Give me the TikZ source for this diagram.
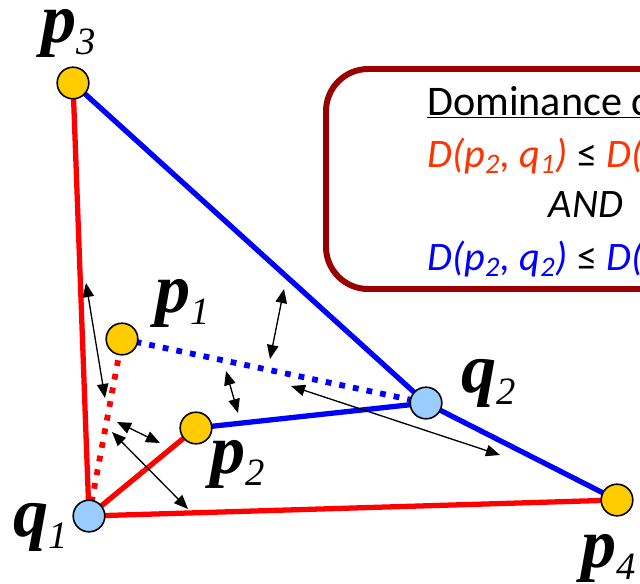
\documentclass[tikz,border=0pt]{standalone}
\usepackage{fontspec}
\setmainfont{Carlito}
\newfontfamily\lblfont{Liberation Serif}[BoldItalicFont={Liberation Serif Bold Italic}, ItalicFont={Liberation Serif Italic}]
\usetikzlibrary{arrows.meta}
\definecolor{ptfill}{HTML}{FFCC00}
\definecolor{qfill}{HTML}{99CCFF}
\definecolor{boxred}{HTML}{990000}
\definecolor{txtred}{HTML}{FF3300}
\tikzset{
 pt/.style={circle, draw=black, line width=0.9pt, fill=ptfill, minimum size=18pt, inner sep=0pt},
 qt/.style={pt, fill=qfill},
 redl/.style={draw=red, line width=3pt},
 bluel/.style={draw=blue, line width=3pt},
 dotl/.style={line width=3.3pt, dash pattern=on 3.3pt off 4.6pt},
 dim/.style={{Triangle[length=8pt,width=6.5pt]}-{Triangle[length=8pt,width=6.5pt]}, line width=0.75pt, draw=black},
 lbl/.style={inner sep=0pt, anchor=base west},
 boxtxt/.style={inner sep=0pt, font=\fontsize{23}{26}\selectfont},
}
\newcommand\lab[2]{{\lblfont\fontsize{40}{40}\selectfont\bfseries\itshape #1}\raisebox{-7pt}{\lblfont\fontsize{22}{22}\selectfont\itshape #2}}
\newcommand\sbs[1]{\textsubscript{#1}}
\begin{document}
\begin{tikzpicture}[x=0.02cm,y=-0.02cm]
\useasboundingbox (0,0) rectangle (640,583);
\clip (0,0) rectangle (640,583);
% box
\draw[boxred, line width=3.4pt, rounded corners=24pt] (326,69) rectangle (860,289);
\node[inner sep=0pt, font=\fontsize{24}{28}\selectfont, anchor=base west] (title) at (427,115) {\underline{Dominance condition}};
\node[boxtxt, anchor=base west] (c1) at (427,167) {\itshape\color{txtred}D(p\sbs{2}, q\sbs{1}) {\upshape\color{black}≤} D(p\sbs{1}, q\sbs{1})};
\node[boxtxt, anchor=base] (and) at (586,217) {\itshape AND};
\node[boxtxt, anchor=base west] (c2) at (427,270) {\itshape\color{blue}D(p\sbs{2}, q\sbs{2}) {\upshape\color{black}≤} D(p\sbs{1}, q\sbs{2})};
% point coordinates
\coordinate (P3) at (73,83);
\coordinate (Q1) at (89,516);
\coordinate (P4) at (617,500);
\coordinate (Q2) at (426,403);
\coordinate (P1) at (122,339);
\coordinate (P2) at (196,428);
% lines
\draw[redl] (Q1) -- (P3);
\draw[redl] (Q1) -- (P4);
\draw[redl] (Q1) -- (P2);
\draw[bluel] (P3) -- (Q2) -- (P4);
\draw[bluel] (P2) -- (Q2);
\draw[dotl, red] (Q1) -- (P1);
\draw[dotl, blue] (P1) -- (Q2);
% dimension arrows
\coordinate (a1s) at (86,283); \coordinate (a1e) at (105,398);
\coordinate (a2s) at (284,289); \coordinate (a2e) at (270,359);
\coordinate (a3s) at (226,371); \coordinate (a3e) at (238,413);
\coordinate (a4s) at (117,422); \coordinate (a4e) at (160,443);
\coordinate (a5s) at (112,432); \coordinate (a5e) at (188,509);
\coordinate (a6s) at (291,386); \coordinate (a6e) at (500,455);
\draw[dim] (a1s) -- (a1e);
\draw[dim] (a2s) -- (a2e);
\draw[dim] (a3s) -- (a3e);
\draw[dim] (a4s) -- (a4e);
\draw[dim] (a5s) -- (a5e);
\draw[dim] (a6s) -- (a6e);
% points
\node[pt] (p3) at (P3) {};
\node[qt] (q1) at (Q1) {};
\node[pt] (p4) at (P4) {};
\node[qt] (q2) at (Q2) {};
\node[pt] (p1) at (P1) {};
\node[pt] (p2) at (P2) {};
% labels
\node[lbl] (lp3) at (41,42) {\lab{p}{3}};
\node[lbl] (lp1) at (155,312) {\lab{p}{1}};
\node[lbl] (lp2) at (210,473) {\lab{p}{2}};
\node[lbl] (lq2) at (461,392) {\lab{q}{2}};
\node[lbl] (lq1) at (13,536) {\lab{q}{1}};
\node[lbl] (lp4) at (581,567) {\lab{p}{4}};
\end{tikzpicture}
\end{document}
